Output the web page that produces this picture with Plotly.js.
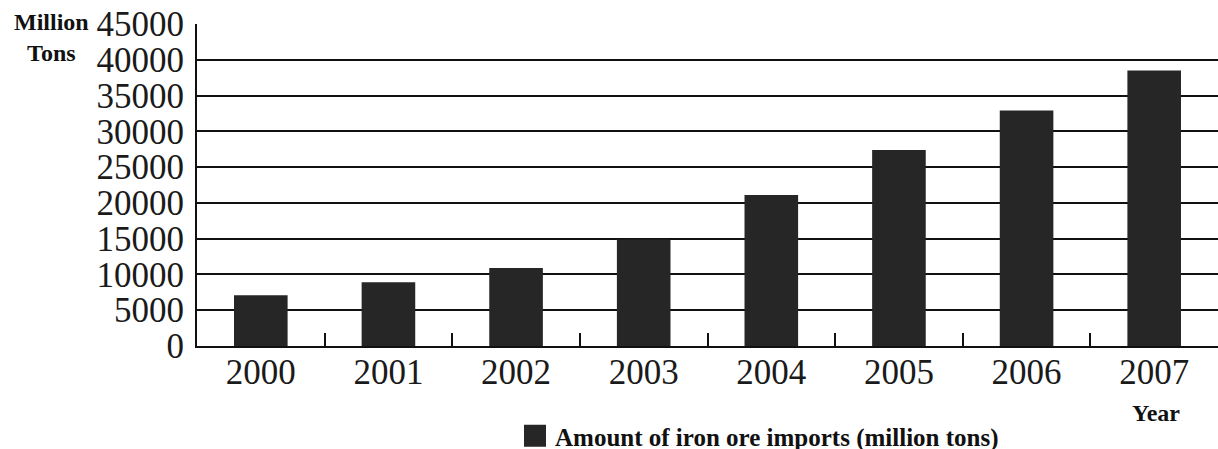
<!DOCTYPE html>
<html>
<head>
<meta charset="utf-8">
<script src="https://cdn.plot.ly/plotly-3.0.1.min.js"></script>
<style>
  html, body { margin: 0; padding: 0; background: #ffffff; }
  #chart { width: 1218px; height: 449px; }
</style>
</head>
<body>
<div id="chart"></div>
<script>
// Data
const years = ['2000', '2001', '2002', '2003', '2004', '2005', '2006', '2007'];
const imports = [7100, 8900, 10900, 14900, 21100, 27400, 32900, 38500];
const seriesName = 'Amount of iron ore imports (million tons)';
const yTickVals = [0, 5000, 10000, 15000, 20000, 25000, 30000, 35000, 40000, 45000];
const yUnitLabel = 'Million<br>Tons';
const xUnitLabel = 'Year';

const serif = 'Liberation Serif, Times New Roman, serif';

const trace = {
  type: 'bar',
  x: years,
  y: imports,
  name: seriesName,
  width: 0.42,
  marker: { color: '#262626', line: { width: 0 } },
  showlegend: true,
  hoverinfo: 'x+y'
};

const layout = {
  width: 1218,
  height: 449,
  margin: { l: 197, r: 0, t: 24, b: 103, pad: 0 },
  paper_bgcolor: '#ffffff',
  plot_bgcolor: '#ffffff',
  font: { family: serif, color: '#1a1a1a' },
  bargap: 0.58,
  xaxis: {
    type: 'category',
    range: [-0.5, 7.5],
    showline: true,
    linecolor: '#111111',
    linewidth: 2,
    showgrid: false,
    zeroline: false,
    ticks: 'inside',
    tickson: 'boundaries',
    ticklen: 13,
    tickwidth: 2,
    tickcolor: '#111111',
    tickfont: { family: serif, size: 35, color: '#1a1a1a' },
    ticklabelstandoff: -6
  },
  yaxis: {
    range: [0, 45000],
    tickvals: yTickVals,
    ticktext: yTickVals.map(String),
    showline: true,
    linecolor: '#111111',
    linewidth: 2,
    showgrid: true,
    gridcolor: '#111111',
    gridwidth: 2,
    zeroline: false,
    ticks: '',
    tickfont: { family: serif, size: 35, color: '#1a1a1a' },
    ticklabelstandoff: 4
  },
  legend: {
    orientation: 'h',
    xref: 'container',
    yref: 'container',
    x: 515 / 1218,
    xanchor: 'left',
    y: 1 - 436 / 449,
    yanchor: 'middle',
    bgcolor: 'rgba(0,0,0,0)',
    font: { family: serif, size: 25, color: '#111111', weight: 'bold' },
    itemwidth: 30
  },
  annotations: [
    {
      text: yUnitLabel,
      xref: 'paper', yref: 'paper',
      x: (51 - 197) / 1021, y: (346 - 38) / 322,
      xanchor: 'center', yanchor: 'middle',
      showarrow: false,
      align: 'center',
      font: { family: serif, size: 24, color: '#111111', weight: 'bold' }
    },
    {
      text: xUnitLabel,
      xref: 'paper', yref: 'paper',
      x: (1156 - 197) / 1021, y: (346 - 413) / 322,
      xanchor: 'center', yanchor: 'middle',
      showarrow: false,
      font: { family: serif, size: 24, color: '#111111', weight: 'bold' }
    }
  ]
};

Plotly.newPlot('chart', [trace], layout, { displayModeBar: false, staticPlot: true }).then(function (gd) {
  // enlarge legend swatch to match the reference's 22px square
  gd.querySelectorAll('.legend .legendpoints path').forEach(function (p) {
    p.setAttribute('d', 'M11,11H-11V-11H11Z');
  });
});
</script>
</body>
</html>
